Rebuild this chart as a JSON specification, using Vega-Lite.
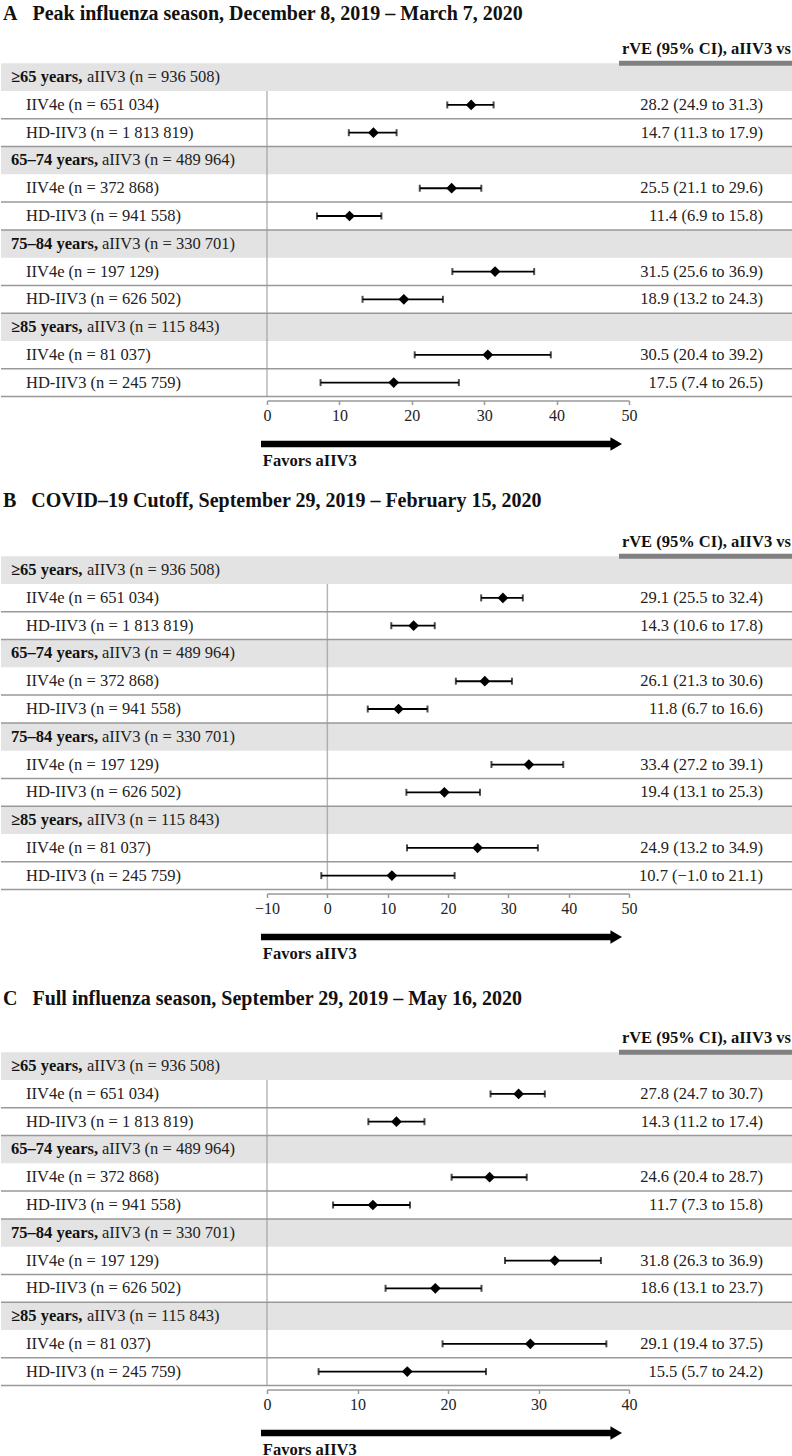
{
  "$schema": "https://vega.github.io/schema/vega-lite/v6.json",
  "padding": {"top": 3.5, "left": 0, "right": 0, "bottom": 0},
  "background": "white",
  "spacing": 0,
  "config": {
    "view": {"stroke": null},
    "font": "Liberation Serif",
    "text": {"font": "Liberation Serif", "fontSize": 16.5, "color": "#222222", "baseline": "middle"},
    "title": {"font": "Liberation Serif", "fontSize": 20, "fontWeight": "bold", "anchor": "start", "color": "#111111", "baseline": "alphabetic", "dx": 2, "frame": "group"},
    "axis": {"labelFont": "Liberation Serif", "labelFontSize": 16, "labelColor": "#222222", "tickSize": 4, "tickColor": "#999999", "tickWidth": 1.5, "domainColor": "#999999", "domainWidth": 1.5, "grid": false, "title": null, "labelPadding": 3, "labelFlush": false, "labelOverlap": false, "offset": 4}
  },
  "datasets": {
    "A": [
      {"row": 1, "level": "group", "age": "≥65 years,", "ref": "aIIV3 (n = 936 508)"},
      {"row": 2, "level": "sub", "label": "IIV4e (n = 651 034)", "est": 28.2, "lo": 24.9, "hi": 31.3, "txt": "28.2 (24.9 to 31.3)"},
      {"row": 3, "level": "sub", "label": "HD-IIV3 (n = 1 813 819)", "est": 14.7, "lo": 11.3, "hi": 17.9, "txt": "14.7 (11.3 to 17.9)"},
      {"row": 4, "level": "group", "age": "65–74 years,", "ref": "aIIV3 (n = 489 964)"},
      {"row": 5, "level": "sub", "label": "IIV4e (n = 372 868)", "est": 25.5, "lo": 21.1, "hi": 29.6, "txt": "25.5 (21.1 to 29.6)"},
      {"row": 6, "level": "sub", "label": "HD-IIV3 (n = 941 558)", "est": 11.4, "lo": 6.9, "hi": 15.8, "txt": "11.4 (6.9 to 15.8)"},
      {"row": 7, "level": "group", "age": "75–84 years,", "ref": "aIIV3 (n = 330 701)"},
      {"row": 8, "level": "sub", "label": "IIV4e (n = 197 129)", "est": 31.5, "lo": 25.6, "hi": 36.9, "txt": "31.5 (25.6 to 36.9)"},
      {"row": 9, "level": "sub", "label": "HD-IIV3 (n = 626 502)", "est": 18.9, "lo": 13.2, "hi": 24.3, "txt": "18.9 (13.2 to 24.3)"},
      {"row": 10, "level": "group", "age": "≥85 years,", "ref": "aIIV3 (n = 115 843)"},
      {"row": 11, "level": "sub", "label": "IIV4e (n = 81 037)", "est": 30.5, "lo": 20.4, "hi": 39.2, "txt": "30.5 (20.4 to 39.2)"},
      {"row": 12, "level": "sub", "label": "HD-IIV3 (n = 245 759)", "est": 17.5, "lo": 7.4, "hi": 26.5, "txt": "17.5 (7.4 to 26.5)"}
    ],
    "B": [
      {"row": 1, "level": "group", "age": "≥65 years,", "ref": "aIIV3 (n = 936 508)"},
      {"row": 2, "level": "sub", "label": "IIV4e (n = 651 034)", "est": 29.1, "lo": 25.5, "hi": 32.4, "txt": "29.1 (25.5 to 32.4)"},
      {"row": 3, "level": "sub", "label": "HD-IIV3 (n = 1 813 819)", "est": 14.3, "lo": 10.6, "hi": 17.8, "txt": "14.3 (10.6 to 17.8)"},
      {"row": 4, "level": "group", "age": "65–74 years,", "ref": "aIIV3 (n = 489 964)"},
      {"row": 5, "level": "sub", "label": "IIV4e (n = 372 868)", "est": 26.1, "lo": 21.3, "hi": 30.6, "txt": "26.1 (21.3 to 30.6)"},
      {"row": 6, "level": "sub", "label": "HD-IIV3 (n = 941 558)", "est": 11.8, "lo": 6.7, "hi": 16.6, "txt": "11.8 (6.7 to 16.6)"},
      {"row": 7, "level": "group", "age": "75–84 years,", "ref": "aIIV3 (n = 330 701)"},
      {"row": 8, "level": "sub", "label": "IIV4e (n = 197 129)", "est": 33.4, "lo": 27.2, "hi": 39.1, "txt": "33.4 (27.2 to 39.1)"},
      {"row": 9, "level": "sub", "label": "HD-IIV3 (n = 626 502)", "est": 19.4, "lo": 13.1, "hi": 25.3, "txt": "19.4 (13.1 to 25.3)"},
      {"row": 10, "level": "group", "age": "≥85 years,", "ref": "aIIV3 (n = 115 843)"},
      {"row": 11, "level": "sub", "label": "IIV4e (n = 81 037)", "est": 24.9, "lo": 13.2, "hi": 34.9, "txt": "24.9 (13.2 to 34.9)"},
      {"row": 12, "level": "sub", "label": "HD-IIV3 (n = 245 759)", "est": 10.7, "lo": -1.0, "hi": 21.1, "txt": "10.7 (−1.0 to 21.1)"}
    ],
    "C": [
      {"row": 1, "level": "group", "age": "≥65 years,", "ref": "aIIV3 (n = 936 508)"},
      {"row": 2, "level": "sub", "label": "IIV4e (n = 651 034)", "est": 27.8, "lo": 24.7, "hi": 30.7, "txt": "27.8 (24.7 to 30.7)"},
      {"row": 3, "level": "sub", "label": "HD-IIV3 (n = 1 813 819)", "est": 14.3, "lo": 11.2, "hi": 17.4, "txt": "14.3 (11.2 to 17.4)"},
      {"row": 4, "level": "group", "age": "65–74 years,", "ref": "aIIV3 (n = 489 964)"},
      {"row": 5, "level": "sub", "label": "IIV4e (n = 372 868)", "est": 24.6, "lo": 20.4, "hi": 28.7, "txt": "24.6 (20.4 to 28.7)"},
      {"row": 6, "level": "sub", "label": "HD-IIV3 (n = 941 558)", "est": 11.7, "lo": 7.3, "hi": 15.8, "txt": "11.7 (7.3 to 15.8)"},
      {"row": 7, "level": "group", "age": "75–84 years,", "ref": "aIIV3 (n = 330 701)"},
      {"row": 8, "level": "sub", "label": "IIV4e (n = 197 129)", "est": 31.8, "lo": 26.3, "hi": 36.9, "txt": "31.8 (26.3 to 36.9)"},
      {"row": 9, "level": "sub", "label": "HD-IIV3 (n = 626 502)", "est": 18.6, "lo": 13.1, "hi": 23.7, "txt": "18.6 (13.1 to 23.7)"},
      {"row": 10, "level": "group", "age": "≥85 years,", "ref": "aIIV3 (n = 115 843)"},
      {"row": 11, "level": "sub", "label": "IIV4e (n = 81 037)", "est": 29.1, "lo": 19.4, "hi": 37.5, "txt": "29.1 (19.4 to 37.5)"},
      {"row": 12, "level": "sub", "label": "HD-IIV3 (n = 245 759)", "est": 15.5, "lo": 5.7, "hi": 24.2, "txt": "15.5 (5.7 to 24.2)"}
    ]
  },
  "vconcat": [
    {
      "title": {"text": "A\u2002 Peak influenza season, December 8, 2019 – March 7, 2020", "offset": 11.3},
      "width": 792, "height": 361,
      "data": {"name": "A"},
      "encoding": {"y": {"field": "row", "type": "ordinal", "scale": {"domain": [0,1,2,3,4,5,6,7,8,9,10,11,12], "paddingInner": 0, "paddingOuter": 0}, "axis": null}},
      "resolve": {"scale": {"x": "independent"}},
      "layer": [
        {"transform": [{"filter": "datum.level === 'group'"}], "mark": {"type": "rect", "color": "#e3e3e3"}},
        {"transform": [{"filter": "datum.level === 'sub'"}], "mark": {"type": "rule", "color": "#999999", "strokeWidth": 1.5}, "encoding": {"y": {"field": "row", "type": "ordinal", "bandPosition": 1}}},
        {"layer": [
          {"transform": [{"filter": "datum.row >= 2"}], "mark": {"type": "tick", "orient": "vertical", "size": 28, "thickness": 1.5, "color": "#999999"}, "encoding": {"x": {"datum": 0, "type": "quantitative", "scale": {"domain": [0, 50], "range": [266, 628]}, "axis": {"values": [0, 10, 20, 30, 40, 50]}}}},
          {"transform": [{"filter": "datum.level === 'sub'"}], "mark": {"type": "rule", "color": "black", "strokeWidth": 1.8}, "encoding": {"x": {"field": "lo", "type": "quantitative"}, "x2": {"field": "hi"}}},
          {"transform": [{"filter": "datum.level === 'sub'"}], "mark": {"type": "tick", "orient": "vertical", "size": 7, "thickness": 2, "color": "black"}, "encoding": {"x": {"field": "lo", "type": "quantitative"}}},
          {"transform": [{"filter": "datum.level === 'sub'"}], "mark": {"type": "tick", "orient": "vertical", "size": 7, "thickness": 2, "color": "black"}, "encoding": {"x": {"field": "hi", "type": "quantitative"}}},
          {"transform": [{"filter": "datum.level === 'sub'"}], "mark": {"type": "point", "shape": "diamond", "filled": true, "size": 115, "color": "black", "opacity": 1}, "encoding": {"x": {"field": "est", "type": "quantitative"}}}
        ]},
        {"encoding": {"x": {"field": "level", "type": "nominal", "scale": {"type": "point", "domain": ["group", "sub"], "range": [10, 25], "padding": 0}, "axis": null}},
         "layer": [
          {"transform": [{"filter": "datum.level === 'group'"}], "mark": {"type": "text", "align": "left", "fontWeight": "bold", "color": "#111111"}, "encoding": {"text": {"field": "age"}}},
          {"transform": [{"filter": {"field": "age", "oneOf": ["≥65 years,", "≥85 years,"]}}], "mark": {"type": "text", "align": "left", "dx": 76}, "encoding": {"text": {"field": "ref"}}},
          {"transform": [{"filter": {"field": "age", "oneOf": ["65–74 years,", "75–84 years,"]}}], "mark": {"type": "text", "align": "left", "dx": 91}, "encoding": {"text": {"field": "ref"}}},
          {"transform": [{"filter": "datum.level === 'sub'"}], "mark": {"type": "text", "align": "left"}, "encoding": {"text": {"field": "label"}}}
        ]},
        {"encoding": {"x": {"field": "level", "type": "nominal", "scale": {"type": "point", "domain": ["header", "sub"], "range": [790, 762], "padding": 0}, "axis": null}},
         "layer": [
          {"transform": [{"filter": "datum.level === 'sub'"}], "mark": {"type": "text", "align": "right"}, "encoding": {"text": {"field": "txt"}}},
          {"data": {"values": [{}]}, "mark": {"type": "text", "align": "right", "fontWeight": "bold", "color": "#111111", "text": "rVE (95% CI), aIIV3 vs"}, "encoding": {"x": {"datum": "header", "type": "nominal"}, "y": {"datum": 0, "type": "ordinal"}}}
        ]},
        {"data": {"values": [{}]}, "mark": {"type": "rule", "color": "#808080", "strokeWidth": 5}, "encoding": {"x": {"datum": 0, "type": "quantitative", "scale": {"domain": [0, 1], "range": [618, 792]}, "axis": null}, "x2": {"datum": 1}, "y": {"datum": 0, "type": "ordinal", "bandPosition": 1}}}
      ]
    },
    {
      "width": 792, "height": 66.4,
      "data": {"values": [{}]},
      "layer": [
        {"mark": {"type": "rule", "color": "black", "strokeWidth": 6.5}, "encoding": {"x": {"datum": 0, "type": "quantitative", "scale": {"domain": [0, 1], "range": [260, 621]}, "axis": null}, "x2": {"datum": 0.97}, "y": {"datum": "arrow", "type": "nominal", "scale": {"type": "point", "domain": ["arrow", "label"], "range": [20.5, 42], "padding": 0}, "axis": null}}},
        {"mark": {"type": "point", "shape": "triangle-right", "filled": true, "size": 180, "color": "black", "opacity": 1}, "encoding": {"x": {"datum": 0.984, "type": "quantitative"}, "y": {"datum": "arrow", "type": "nominal"}}},
        {"mark": {"type": "text", "text": "Favors aIIV3", "align": "left", "baseline": "alphabetic", "fontWeight": "bold", "fontSize": 16.5, "color": "#111111"}, "encoding": {"x": {"datum": 0.005, "type": "quantitative"}, "y": {"datum": "label", "type": "nominal"}}}
      ]
    },
    {
      "title": {"text": "B\u2002 COVID–19 Cutoff, September 29, 2019 – February 15, 2020", "offset": 17.3},
      "width": 792, "height": 361,
      "data": {"name": "B"},
      "encoding": {"y": {"field": "row", "type": "ordinal", "scale": {"domain": [0,1,2,3,4,5,6,7,8,9,10,11,12], "paddingInner": 0, "paddingOuter": 0}, "axis": null}},
      "resolve": {"scale": {"x": "independent"}},
      "layer": [
        {"transform": [{"filter": "datum.level === 'group'"}], "mark": {"type": "rect", "color": "#e3e3e3"}},
        {"transform": [{"filter": "datum.level === 'sub'"}], "mark": {"type": "rule", "color": "#999999", "strokeWidth": 1.5}, "encoding": {"y": {"field": "row", "type": "ordinal", "bandPosition": 1}}},
        {"layer": [
          {"transform": [{"filter": "datum.row >= 2"}], "mark": {"type": "tick", "orient": "vertical", "size": 28, "thickness": 1.5, "color": "#999999"}, "encoding": {"x": {"datum": 0, "type": "quantitative", "scale": {"domain": [-10, 50], "range": [266, 628]}, "axis": {"values": [-10, 0, 10, 20, 30, 40, 50]}}}},
          {"transform": [{"filter": "datum.level === 'sub'"}], "mark": {"type": "rule", "color": "black", "strokeWidth": 1.8}, "encoding": {"x": {"field": "lo", "type": "quantitative"}, "x2": {"field": "hi"}}},
          {"transform": [{"filter": "datum.level === 'sub'"}], "mark": {"type": "tick", "orient": "vertical", "size": 7, "thickness": 2, "color": "black"}, "encoding": {"x": {"field": "lo", "type": "quantitative"}}},
          {"transform": [{"filter": "datum.level === 'sub'"}], "mark": {"type": "tick", "orient": "vertical", "size": 7, "thickness": 2, "color": "black"}, "encoding": {"x": {"field": "hi", "type": "quantitative"}}},
          {"transform": [{"filter": "datum.level === 'sub'"}], "mark": {"type": "point", "shape": "diamond", "filled": true, "size": 115, "color": "black", "opacity": 1}, "encoding": {"x": {"field": "est", "type": "quantitative"}}}
        ]},
        {"encoding": {"x": {"field": "level", "type": "nominal", "scale": {"type": "point", "domain": ["group", "sub"], "range": [10, 25], "padding": 0}, "axis": null}},
         "layer": [
          {"transform": [{"filter": "datum.level === 'group'"}], "mark": {"type": "text", "align": "left", "fontWeight": "bold", "color": "#111111"}, "encoding": {"text": {"field": "age"}}},
          {"transform": [{"filter": {"field": "age", "oneOf": ["≥65 years,", "≥85 years,"]}}], "mark": {"type": "text", "align": "left", "dx": 76}, "encoding": {"text": {"field": "ref"}}},
          {"transform": [{"filter": {"field": "age", "oneOf": ["65–74 years,", "75–84 years,"]}}], "mark": {"type": "text", "align": "left", "dx": 91}, "encoding": {"text": {"field": "ref"}}},
          {"transform": [{"filter": "datum.level === 'sub'"}], "mark": {"type": "text", "align": "left"}, "encoding": {"text": {"field": "label"}}}
        ]},
        {"encoding": {"x": {"field": "level", "type": "nominal", "scale": {"type": "point", "domain": ["header", "sub"], "range": [790, 762], "padding": 0}, "axis": null}},
         "layer": [
          {"transform": [{"filter": "datum.level === 'sub'"}], "mark": {"type": "text", "align": "right"}, "encoding": {"text": {"field": "txt"}}},
          {"data": {"values": [{}]}, "mark": {"type": "text", "align": "right", "fontWeight": "bold", "color": "#111111", "text": "rVE (95% CI), aIIV3 vs"}, "encoding": {"x": {"datum": "header", "type": "nominal"}, "y": {"datum": 0, "type": "ordinal"}}}
        ]},
        {"data": {"values": [{}]}, "mark": {"type": "rule", "color": "#808080", "strokeWidth": 5}, "encoding": {"x": {"datum": 0, "type": "quantitative", "scale": {"domain": [0, 1], "range": [618, 792]}, "axis": null}, "x2": {"datum": 1}, "y": {"datum": 0, "type": "ordinal", "bandPosition": 1}}}
      ]
    },
    {
      "width": 792, "height": 72,
      "data": {"values": [{}]},
      "layer": [
        {"mark": {"type": "rule", "color": "black", "strokeWidth": 6.5}, "encoding": {"x": {"datum": 0, "type": "quantitative", "scale": {"domain": [0, 1], "range": [260, 621]}, "axis": null}, "x2": {"datum": 0.97}, "y": {"datum": "arrow", "type": "nominal", "scale": {"type": "point", "domain": ["arrow", "label"], "range": [20.5, 42], "padding": 0}, "axis": null}}},
        {"mark": {"type": "point", "shape": "triangle-right", "filled": true, "size": 180, "color": "black", "opacity": 1}, "encoding": {"x": {"datum": 0.984, "type": "quantitative"}, "y": {"datum": "arrow", "type": "nominal"}}},
        {"mark": {"type": "text", "text": "Favors aIIV3", "align": "left", "baseline": "alphabetic", "fontWeight": "bold", "fontSize": 16.5, "color": "#111111"}, "encoding": {"x": {"datum": 0.005, "type": "quantitative"}, "y": {"datum": "label", "type": "nominal"}}}
      ]
    },
    {
      "title": {"text": "C\u2002 Full influenza season, September 29, 2019 – May 16, 2020", "offset": 15.7},
      "width": 792, "height": 361,
      "data": {"name": "C"},
      "encoding": {"y": {"field": "row", "type": "ordinal", "scale": {"domain": [0,1,2,3,4,5,6,7,8,9,10,11,12], "paddingInner": 0, "paddingOuter": 0}, "axis": null}},
      "resolve": {"scale": {"x": "independent"}},
      "layer": [
        {"transform": [{"filter": "datum.level === 'group'"}], "mark": {"type": "rect", "color": "#e3e3e3"}},
        {"transform": [{"filter": "datum.level === 'sub'"}], "mark": {"type": "rule", "color": "#999999", "strokeWidth": 1.5}, "encoding": {"y": {"field": "row", "type": "ordinal", "bandPosition": 1}}},
        {"layer": [
          {"transform": [{"filter": "datum.row >= 2"}], "mark": {"type": "tick", "orient": "vertical", "size": 28, "thickness": 1.5, "color": "#999999"}, "encoding": {"x": {"datum": 0, "type": "quantitative", "scale": {"domain": [0, 40], "range": [266, 628]}, "axis": {"values": [0, 10, 20, 30, 40]}}}},
          {"transform": [{"filter": "datum.level === 'sub'"}], "mark": {"type": "rule", "color": "black", "strokeWidth": 1.8}, "encoding": {"x": {"field": "lo", "type": "quantitative"}, "x2": {"field": "hi"}}},
          {"transform": [{"filter": "datum.level === 'sub'"}], "mark": {"type": "tick", "orient": "vertical", "size": 7, "thickness": 2, "color": "black"}, "encoding": {"x": {"field": "lo", "type": "quantitative"}}},
          {"transform": [{"filter": "datum.level === 'sub'"}], "mark": {"type": "tick", "orient": "vertical", "size": 7, "thickness": 2, "color": "black"}, "encoding": {"x": {"field": "hi", "type": "quantitative"}}},
          {"transform": [{"filter": "datum.level === 'sub'"}], "mark": {"type": "point", "shape": "diamond", "filled": true, "size": 115, "color": "black", "opacity": 1}, "encoding": {"x": {"field": "est", "type": "quantitative"}}}
        ]},
        {"encoding": {"x": {"field": "level", "type": "nominal", "scale": {"type": "point", "domain": ["group", "sub"], "range": [10, 25], "padding": 0}, "axis": null}},
         "layer": [
          {"transform": [{"filter": "datum.level === 'group'"}], "mark": {"type": "text", "align": "left", "fontWeight": "bold", "color": "#111111"}, "encoding": {"text": {"field": "age"}}},
          {"transform": [{"filter": {"field": "age", "oneOf": ["≥65 years,", "≥85 years,"]}}], "mark": {"type": "text", "align": "left", "dx": 76}, "encoding": {"text": {"field": "ref"}}},
          {"transform": [{"filter": {"field": "age", "oneOf": ["65–74 years,", "75–84 years,"]}}], "mark": {"type": "text", "align": "left", "dx": 91}, "encoding": {"text": {"field": "ref"}}},
          {"transform": [{"filter": "datum.level === 'sub'"}], "mark": {"type": "text", "align": "left"}, "encoding": {"text": {"field": "label"}}}
        ]},
        {"encoding": {"x": {"field": "level", "type": "nominal", "scale": {"type": "point", "domain": ["header", "sub"], "range": [790, 762], "padding": 0}, "axis": null}},
         "layer": [
          {"transform": [{"filter": "datum.level === 'sub'"}], "mark": {"type": "text", "align": "right"}, "encoding": {"text": {"field": "txt"}}},
          {"data": {"values": [{}]}, "mark": {"type": "text", "align": "right", "fontWeight": "bold", "color": "#111111", "text": "rVE (95% CI), aIIV3 vs"}, "encoding": {"x": {"datum": "header", "type": "nominal"}, "y": {"datum": 0, "type": "ordinal"}}}
        ]},
        {"data": {"values": [{}]}, "mark": {"type": "rule", "color": "#808080", "strokeWidth": 5}, "encoding": {"x": {"datum": 0, "type": "quantitative", "scale": {"domain": [0, 1], "range": [618, 792]}, "axis": null}, "x2": {"datum": 1}, "y": {"datum": 0, "type": "ordinal", "bandPosition": 1}}}
      ]
    },
    {
      "width": 792, "height": 44,
      "data": {"values": [{}]},
      "layer": [
        {"mark": {"type": "rule", "color": "black", "strokeWidth": 6.5}, "encoding": {"x": {"datum": 0, "type": "quantitative", "scale": {"domain": [0, 1], "range": [260, 621]}, "axis": null}, "x2": {"datum": 0.97}, "y": {"datum": "arrow", "type": "nominal", "scale": {"type": "point", "domain": ["arrow", "label"], "range": [20.5, 42], "padding": 0}, "axis": null}}},
        {"mark": {"type": "point", "shape": "triangle-right", "filled": true, "size": 180, "color": "black", "opacity": 1}, "encoding": {"x": {"datum": 0.984, "type": "quantitative"}, "y": {"datum": "arrow", "type": "nominal"}}},
        {"mark": {"type": "text", "text": "Favors aIIV3", "align": "left", "baseline": "alphabetic", "fontWeight": "bold", "fontSize": 16.5, "color": "#111111"}, "encoding": {"x": {"datum": 0.005, "type": "quantitative"}, "y": {"datum": "label", "type": "nominal"}}}
      ]
    }
  ]
}
